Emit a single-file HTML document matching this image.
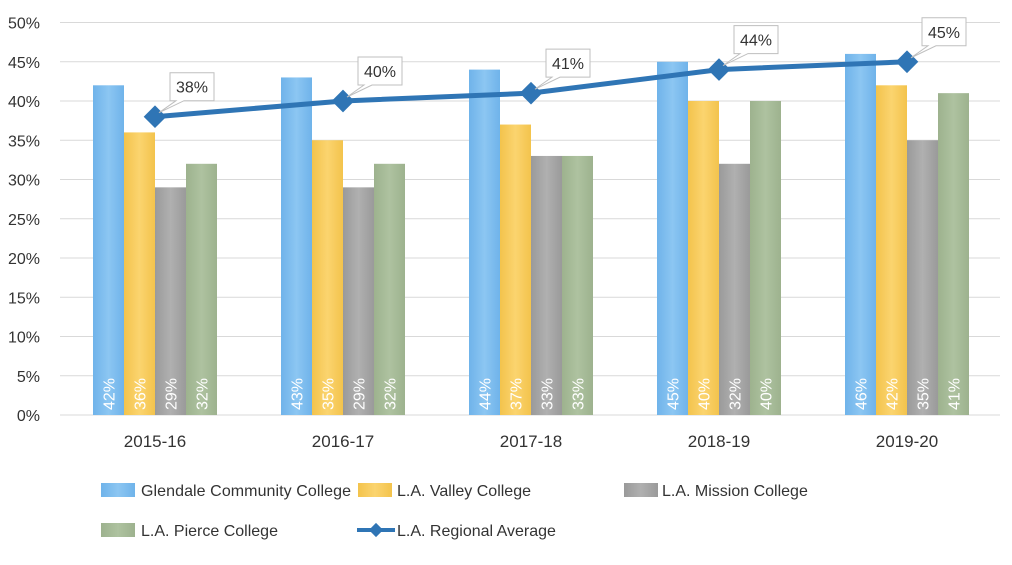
<!DOCTYPE html>
<html><head><meta charset="utf-8"><style>
body{margin:0;background:#fff;font-family:"Liberation Sans",sans-serif}
svg text{font-family:"Liberation Sans",sans-serif}
</style></head><body>
<svg width="1012" height="560">
<defs>
<linearGradient id="gB" x1="0" x2="1"><stop offset="0" stop-color="#6fb3ea"/><stop offset=".5" stop-color="#8cc6f2"/><stop offset="1" stop-color="#6fb3ea"/></linearGradient>
<linearGradient id="gY" x1="0" x2="1"><stop offset="0" stop-color="#f3c34c"/><stop offset=".5" stop-color="#fbd46f"/><stop offset="1" stop-color="#f3c34c"/></linearGradient>
<linearGradient id="gG" x1="0" x2="1"><stop offset="0" stop-color="#9a9a9a"/><stop offset=".5" stop-color="#b0b0b0"/><stop offset="1" stop-color="#9a9a9a"/></linearGradient>
<linearGradient id="gP" x1="0" x2="1"><stop offset="0" stop-color="#9db28e"/><stop offset=".5" stop-color="#aec2a0"/><stop offset="1" stop-color="#9db28e"/></linearGradient>
</defs>
<g id="grid"></g><g id="bars"></g><g id="line"></g>
<g font-size="16" fill="#333">
<rect x="101" y="483" width="34" height="14" fill="url(#gB)"/>
<text x="141" y="496" textLength="210">Glendale Community College</text>
<rect x="358" y="483" width="34" height="14" fill="url(#gY)"/>
<text x="397" y="496">L.A. Valley College</text>
<rect x="624" y="483" width="34" height="14" fill="url(#gG)"/>
<text x="662" y="496">L.A. Mission College</text>
<rect x="101" y="523" width="34" height="14" fill="url(#gP)"/>
<text x="141" y="536">L.A. Pierce College</text>
<line x1="357" y1="530" x2="395" y2="530" stroke="#2f75b5" stroke-width="4"/>
<rect x="371" y="525" width="10" height="10" fill="#2f75b5" transform="rotate(45 376 530)"/>
<text x="397" y="536">L.A. Regional Average</text>
</g>
</svg>
<script>
const categories=["2015-16","2016-17","2017-18","2018-19","2019-20"];
const glendale=[42,43,44,45,46];
const valley=[36,35,37,40,42];
const mission=[29,29,33,32,35];
const pierce=[32,32,33,40,41];
const average=[38,40,41,44,45];
const yTicks=[0,5,10,15,20,25,30,35,40,45,50];
const NS="http://www.w3.org/2000/svg";
const x0=60,x1=1000,y0=415,y50=22.5;
const yS=v=>y0-(y0-y50)*v/50;
const band=(x1-x0)/categories.length;
const xC=i=>x0+band*(i+0.5)+1;
function mk(t,a,p){const e=document.createElementNS(NS,t);for(const k in a)e.setAttribute(k,a[k]);p.appendChild(e);return e;}
const grid=document.getElementById('grid'),bars=document.getElementById('bars'),line=document.getElementById('line');
yTicks.forEach(v=>{
 const l=mk('line',{x1:x0,x2:x1,y1:yS(v),y2:yS(v),stroke:'#d9d9d9','stroke-width':1},grid);
 
 
 const t=mk('text',{x:40,y:yS(v)+6,'text-anchor':'end','font-size':16,fill:'#333'},grid);
 t.textContent=v+'%';
 
 
});
const series=[[glendale,'url(#gB)','glendale'],[valley,'url(#gY)','valley'],[mission,'url(#gG)','mission'],[pierce,'url(#gP)','pierce']];
const bw=31;
categories.forEach((c,i)=>{
 const t=mk('text',{x:xC(i),y:447,'text-anchor':'middle','font-size':17,fill:'#333'},grid);
 t.textContent=c;
 
 
 series.forEach((s,j)=>{
  const bx=xC(i)-62+j*bw, v=s[0][i];
  const r=mk('rect',{x:bx,y:yS(v),width:bw,height:y0-yS(v),fill:s[1]},bars);
  
  
  const lx=bx+bw/2+6,ly=410;
  const tl=mk('text',{x:lx,y:ly,'font-size':16,fill:'#fff',transform:`rotate(-90 ${lx} ${ly})`},bars);
  tl.textContent=v+'%';
  
  
 });
});
const pts=average.map((v,i)=>[xC(i),yS(v)]);
const pl=mk('polyline',{points:pts.map(p=>p.join(',')).join(' '),fill:'none',stroke:'#2f75b5','stroke-width':5},line);


pts.forEach((p,i)=>{
 const m=mk('rect',{x:p[0]-8,y:p[1]-8,width:16,height:16,fill:'#2f75b5',transform:`rotate(45 ${p[0]} ${p[1]})`},line);
 
 
 const bx=p[0]+15,by=p[1]-44;
 const pt=mk('path',{d:`M${bx} ${by} h44 v28 h-30 L${p[0]+4} ${p[1]-4} L${bx+6} ${by+28} h-6 z`,fill:'#fff',stroke:'#bfbfbf','stroke-width':1},line);
 
 
 const t=mk('text',{x:bx+22,y:by+20,'text-anchor':'middle','font-size':16,fill:'#333'},line);
 t.textContent=average[i]+'%';
 
 
});
</script>
</body></html>
